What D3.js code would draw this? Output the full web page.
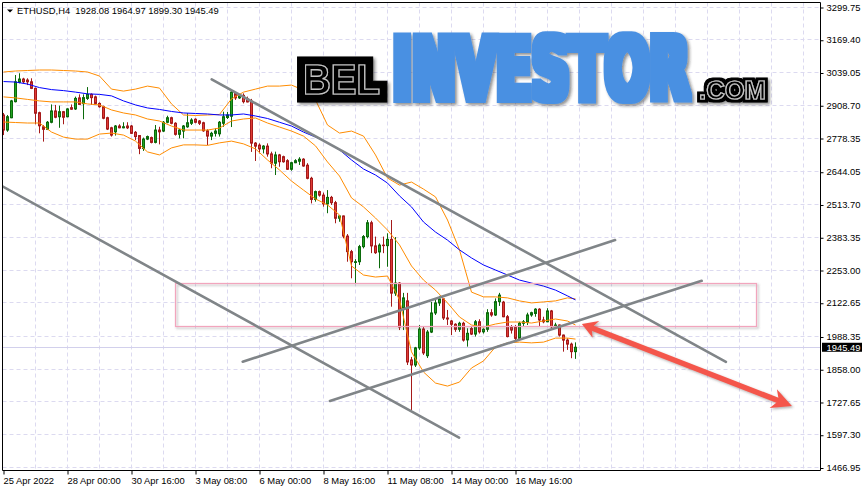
<!DOCTYPE html>
<html>
<head>
<meta charset="utf-8">
<script src="https://cdn.jsdelivr.net/npm/d3@7"></script>
<style>
html, body { margin: 0; padding: 0; background: #fff; }
svg { display: block; font-family: "Liberation Sans", Arial, sans-serif; }
</style>
</head>
<body>
<div class="chart"></div>
<script>
var width = 866, height = 492;
var plotLeft = 2.5, plotTop = 2.5, plotRight = 820.5, plotBottom = 470.5;

var symbol = "ETHUSD,H4";

// H4 candles, first bar 25 Apr 2022 08:00
var opens = [2870,2810,2859,2923,3000,3013,3009,3002,2976,2879, 2823,2813,2841,2886,2863,2883,2863,2899,2894,2938,
  2915,2936,2952,2942,2916,2903,2859,2819,2803,2826, 2819,2826,2826,2801,2788,2737,2774,2780,2761,2810,
  2806,2841,2859,2837,2793,2806,2823,2837,2853,2846, 2839,2807,2786,2797,2795,2837,2860,2865,2955,2938,
  2948,2934,2925,2758,2750,2735,2746,2715,2678,2711, 2704,2688,2654,2680,2686,2694,2670,2618,2534,2565,
  2551,2516,2542,2521,2459,2468,2388,2326,2283,2286, 2346,2386,2441,2349,2325,2352,2350,2375,2161,2201,
  2102,2130,1895,1875,1943,2018,1912,2006,2082,2122, 2138,2062,2050,2037,2017,2041,1975,2020,1998,2047,
  2007,2017,2083,2074,2127,2125,2067,2027,2027,1981, 2041,2045,2074,2080,2097,2054,2047,2090,2027,2034,
  1994,1974,1958,1928.08];
var highs = [2878,2870,2930,3029,3036,3018,3016,3016,2979,2883, 2830,2846,2912,2910,2907,2886,2897,2912,2943,2952,
  2952,2981,2956,2947,2920,2907,2863,2823,2830,2833, 2841,2841,2830,2806,2790,2780,2788,2784,2830,2823,
  2846,2867,2863,2841,2814,2830,2877,2857,2857,2850, 2843,2813,2803,2817,2846,2883,2882,2969,2960,2954,
  2956,2943,2934,2762,2757,2750,2757,2724,2724,2715, 2708,2694,2684,2694,2702,2698,2678,2624,2569,2569,
  2561,2571,2548,2528,2472,2470,2396,2333,2296,2353, 2392,2452,2449,2386,2359,2386,2399,2452,2384,2205,
  2162,2162,1907,1947,2034,2026,2014,2126,2138,2150, 2142,2094,2054,2041,2047,2047,2021,2030,2054,2057,
  2021,2097,2097,2140,2162,2130,2074,2034,2034,2047, 2054,2083,2087,2101,2101,2067,2101,2094,2043,2036,
  1996,1981,1964,1964.97];
var lows = [2790,2803,2857,2920,2996,2996,2989,2973,2833,2797, 2764,2810,2837,2857,2819,2833,2861,2890,2890,2910,
  2853,2930,2910,2912,2899,2853,2810,2784,2788,2817, 2817,2814,2794,2770,2714,2727,2770,2757,2757,2753,
  2802,2837,2833,2788,2777,2777,2819,2830,2837,2830, 2803,2750,2770,2784,2784,2823,2854,2822,2930,2934,
  2916,2920,2723,2687,2717,2717,2704,2658,2631,2664, 2680,2651,2648,2678,2671,2664,2614,2518,2525,2545,
  2505,2479,2512,2439,2445,2379,2286,2220,2197,2273, 2339,2379,2320,2317,2260,2320,2266,2107,2150,2014,
  2014,1875,1696,1867,1935,1915,1903,2002,2074,2110, 2054,2034,1994,2007,2007,1968,1948,1994,1988,2000,
  2000,2007,2067,2070,2110,2065,1985,2000,1974,1978, 2027,2034,2067,2067,2027,2041,2045,2021,2021,1988,
  1928,1935,1902,1899.30];
var closes = [2810,2863,2926,3002,3013,3002,3002,2976,2877,2827, 2813,2841,2886,2861,2883,2861,2894,2893,2936,2912,
  2939,2952,2939,2916,2903,2857,2814,2790,2826,2819, 2823,2819,2797,2784,2737,2774,2784,2761,2810,2803,
  2841,2859,2837,2793,2810,2826,2839,2850,2841,2837, 2807,2786,2797,2806,2841,2863,2870,2961,2938,2946,
  2923,2922,2758,2746,2735,2746,2715,2678,2711,2684, 2684,2654,2680,2688,2694,2667,2618,2534,2565,2551,
  2516,2542,2521,2459,2468,2388,2326,2286,2286,2346, 2386,2441,2349,2322,2352,2350,2375,2161,2201,2026,
  2142,1887,1875,1943,2018,1923,2006,2082,2122,2138, 2062,2058,2037,2017,2041,1974,2001,1998,2047,2007,
  2017,2083,2074,2127,2153,2067,1988,2014,1981,2041, 2047,2074,2083,2097,2054,2047,2090,2027,2034,1994,
  1974,1958,1928,1945.49];

// indicator readings, sampled every 3 bars
var bandBars = [0,3,6,9,12,15,18,21,24,27,30,33,36,39,42,45,48,51,54,57,60,63,66,69,72,75,78,81,84,87,
  90,93,96,99,102,105,108,111,114,117,120,123,126,129,132,135,138,141,143];
var bbUpper = [3041,3045,3047,3049,3049,3047,3045,3041,3025,2973, 2965,2973,2985,2977,2914,2870,2868,2870,2872,2934,
  2961,2973,2985,2985,2989,2969,2930,2830,2798,2806, 2786,2711,2619,2591,2603,2575,2544,2452,2333,2165,
  2146,2146,2142,2130,2122,2126,2130,2142,2138];
var bbMiddle = [2942,2938,2932,2926,2922,2922,2922,2914,2910,2890, 2878,2870,2854,2846,2826,2810,2810,2810,2818,2846,
  2854,2858,2838,2822,2806,2786,2747,2683,2627,2540, 2504,2460,2412,2353,2269,2213,2173,2122,2066,2034,
  2026,2038,2046,2046,2042,2050,2058,2050,2034];
var bbLower = [2842,2840,2838,2838,2802,2782,2774,2774,2794,2798, 2790,2766,2723,2711,2739,2751,2751,2749,2759,2766,
  2755,2735,2691,2651,2607,2571,2536,2512,2472,2269, 2233,2225,2229,2134,1927,1847,1803,1791,1807,1863,
  1891,1947,1963,1966,1963,1966,1982,1982,1978];
var maLine = [3003,3001,2993,2979,2971,2967,2961,2954,2952,2946, 2926,2910,2898,2892,2884,2878,2876,2874,2870,2870,
  2874,2866,2856,2841,2826,2802,2782,2759,2731,2691, 2655,2631,2599,2548,2504,2444,2404,2372,2333,2301,
  2273,2253,2233,2213,2201,2189,2173,2150,2134];

var timeTicks = [0,16,32,48,64,80,96,112,128];
var timeLabels = ["25 Apr 2022","28 Apr 00:00","30 Apr 16:00","3 May 08:00","6 May 00:00",
  "8 May 16:00","11 May 08:00","14 May 00:00","16 May 16:00"];
var priceTicks = [3299.75,3169.40,3039.05,2908.70,2778.35,2644.05,2513.70,2383.35,2253.00,
  2122.65,1988.35,1858.00,1727.65,1597.30,1466.95];

// drawn objects: [bar, price, bar, price]
var trendLines = [[52.05,3012,180.6,1887],[-0.5,2588,113.9,1586],[81.6,1732,174.55,2210],[59.8,1888,152.9,2372]];
var zoneBox = [43.1,2200,188.45,2027];
var arrowObj = [144.6,2038,197.1,1712];

var x = d3.scaleLinear().domain([0, 143]).range([3.5, 575.5]);
var y = d3.scaleLinear().domain([1466.95, 3299.75]).range([467.5, 7]);

function crisp(v){ return Math.round(v - 0.5) + 0.5; }

var svg = d3.select(".chart").append("svg").attr("width", width).attr("height", height);
var defs = svg.append("defs");
defs.append("clipPath").attr("id","plotClip").append("rect")
  .attr("x", plotLeft).attr("y", plotTop).attr("width", plotRight - plotLeft).attr("height", plotBottom - plotTop);
var f2 = defs.append("filter").attr("id","softShadow").attr("x","-10%").attr("y","-30%").attr("width","130%").attr("height","160%");
f2.append("feDropShadow").attr("dx",1.5).attr("dy",1.5).attr("stdDeviation",1.2).attr("flood-color","#555").attr("flood-opacity",0.45);

// thick outline + shadow for the logo
function fatFilter(id, r, color){
  var f = defs.append("filter").attr("id", id).attr("x","-10%").attr("y","-30%").attr("width","125%").attr("height","160%");
  f.append("feMorphology").attr("in","SourceAlpha").attr("operator","dilate").attr("radius", r).attr("result","fatA");
  f.append("feFlood").attr("flood-color", color).attr("result","col");
  f.append("feComposite").attr("in","col").attr("in2","fatA").attr("operator","in").attr("result","fat");
  f.append("feGaussianBlur").attr("in","fatA").attr("stdDeviation",1.5).attr("result","blur");
  f.append("feOffset").attr("in","blur").attr("dx",2).attr("dy",2).attr("result","off");
  f.append("feFlood").attr("flood-color","#222").attr("flood-opacity",0.5).attr("result","sc");
  f.append("feComposite").attr("in","sc").attr("in2","off").attr("operator","in").attr("result","shadow");
  var m = f.append("feMerge");
  m.append("feMergeNode").attr("in","shadow");
  m.append("feMergeNode").attr("in","fat");
  if (color === "#000") m.append("feMergeNode").attr("in","SourceGraphic");
}
fatFilter("fatBlack", 8, "#000");
fatFilter("fatBlackSmall", 3, "#000");
fatFilter("fatBlue", 3.5, "#4a90e2");

svg.append("rect").attr("width", width).attr("height", height).attr("fill", "#fff");

var plot = svg.append("g").attr("clip-path","url(#plotClip)");

// grid
var gridColor = "#dcdaf0";
plot.selectAll(".vgrid").data(d3.range(8, 205, 8)).enter().append("line")
  .attr("x1", function(d){ return crisp(x(d)); }).attr("x2", function(d){ return crisp(x(d)); })
  .attr("y1", plotTop).attr("y2", plotBottom)
  .attr("stroke", gridColor).attr("stroke-dasharray","4,3");
plot.selectAll(".hgrid").data(priceTicks).enter().append("line")
  .attr("x1", plotLeft).attr("x2", plotRight)
  .attr("y1", function(d){ return crisp(y(d)); }).attr("y2", function(d){ return crisp(y(d)); })
  .attr("stroke", gridColor).attr("stroke-dasharray","4,3");

// bid line
var last = closes.length - 1;
plot.append("line").attr("x1", plotLeft).attr("x2", plotRight)
  .attr("y1", crisp(y(closes[last]))).attr("y2", crisp(y(closes[last])))
  .attr("stroke", "#d2d0ec");

// candles
var bars = d3.range(opens.length);
function up(i){ return closes[i] >= opens[i]; }
var cg = plot.append("g");
cg.selectAll(".wick").data(bars).enter().append("line")
  .attr("x1", function(i){ return x(i); }).attr("x2", function(i){ return x(i); })
  .attr("y1", function(i){ return y(highs[i]); }).attr("y2", function(i){ return y(lows[i]); })
  .attr("stroke", function(i){ return up(i) ? "#0b6a0b" : "#a51a1a"; });
cg.selectAll(".body").data(bars).enter().append("rect")
  .attr("x", function(i){ return x(i) - 1; }).attr("width", 2)
  .attr("y", function(i){ return y(Math.max(opens[i], closes[i])); })
  .attr("height", function(i){ return Math.max(0.5, Math.abs(y(opens[i]) - y(closes[i]))); })
  .attr("fill", function(i){ return up(i) ? "#22a322" : "#e03b36"; })
  .attr("stroke", function(i){ return up(i) ? "#0b6a0b" : "#a51a1a"; });

// indicators
function bandLine(vals){
  return d3.line().x(function(d, k){ return x(bandBars[k]); }).y(function(d){ return y(d); })(vals);
}
[bbUpper, bbMiddle, bbLower].forEach(function(v){
  plot.append("path").attr("d", bandLine(v)).attr("fill","none").attr("stroke","#ff8c00").attr("stroke-width",1);
});
plot.append("path").attr("d", bandLine(maLine)).attr("fill","none").attr("stroke","#0000ff").attr("stroke-width",1);

// zone rectangle
plot.append("rect")
  .attr("x", crisp(x(zoneBox[0]))).attr("y", crisp(y(zoneBox[1])))
  .attr("width", Math.round(x(zoneBox[2]) - x(zoneBox[0]))).attr("height", Math.round(y(zoneBox[3]) - y(zoneBox[1])))
  .attr("fill","none").attr("stroke","#f2a5bd").attr("stroke-width",1.2).attr("filter","url(#softShadow)");

// trend lines
plot.selectAll(".trend").data(trendLines).enter().append("line")
  .attr("x1", function(d){ return x(d[0]); }).attr("y1", function(d){ return y(d[1]); })
  .attr("x2", function(d){ return x(d[2]); }).attr("y2", function(d){ return y(d[3]); })
  .attr("stroke","#808588").attr("stroke-width",2.6).attr("stroke-linecap","round");

// red arrow
var ax1 = x(arrowObj[0]), ay1 = y(arrowObj[1]), ax2 = x(arrowObj[2]), ay2 = y(arrowObj[3]);
var len = Math.hypot(ax2 - ax1, ay2 - ay1), ux = (ax2 - ax1) / len, uy = (ay2 - ay1) / len;
function headPath(tx, ty, dx, dy, L, W){
  var bx = tx - dx * L, by = ty - dy * L, nx = -dy, ny = dx;
  var mx = tx - dx * L * 0.7, my = ty - dy * L * 0.7;
  return "M" + tx + "," + ty + "L" + (bx + nx * W) + "," + (by + ny * W) +
    "L" + mx + "," + my + "L" + (bx - nx * W) + "," + (by - ny * W) + "Z";
}
var ag = plot.append("g").attr("filter","url(#softShadow)");
ag.append("line").attr("x1", ax1 + ux * 6).attr("y1", ay1 + uy * 6).attr("x2", ax2 - ux * 10).attr("y2", ay2 - uy * 10)
  .attr("stroke","#f4574b").attr("stroke-width",5.5);
ag.append("path").attr("d", headPath(ax2, ay2, ux, uy, 20, 10)).attr("fill","#f4574b");
ag.append("path").attr("d", headPath(ax1, ay1, -ux, -uy, 15, 9)).attr("fill","#f4574b");

// logo watermark: each word fitted to its box with a scale transform
function logoWord(txt, left, baseline, w, size, family, filterId, fill, inline){
  var g = svg.append("g").attr("filter","url(#" + filterId + ")");
  var t = g.append("text").text(txt).attr("font-size", size).attr("font-weight","bold")
    .attr("font-family", family).attr("fill", fill);
  if (inline) t.attr("stroke","#c4c4c4").attr("stroke-width",1.2);
  var nat = t.node().getComputedTextLength();
  t.attr("transform","translate(" + left + "," + baseline + ") scale(" + (w / nat) + ",1)");
}
logoWord("BEL", 303, 94, 77, 43, "'Liberation Sans',Arial,sans-serif", "fatBlack", "#000", true);
logoWord("INVESTOR", 392.5, 98.5, 297, 85, "'DejaVu Sans Condensed','Liberation Sans Narrow','DejaVu Sans',sans-serif", "fatBlue", "#4a90e2", false);
logoWord(".COM", 699, 98.5, 67, 25, "'Liberation Sans',Arial,sans-serif", "fatBlackSmall", "#000", true);

// frame
svg.append("path").attr("d","M" + plotLeft + "," + plotBottom + "V" + plotTop + "H" + plotRight)
  .attr("fill","none").attr("stroke","#000");

// axes
var yAxis = d3.axisRight(y).tickValues(priceTicks).tickFormat(d3.format(".2f")).tickSize(3).tickPadding(3);
var yg = svg.append("g").attr("transform","translate(" + plotRight + ",0)").call(yAxis);
var xAxis = d3.axisBottom(x).tickValues(timeTicks).tickFormat(function(d, i){ return timeLabels[i]; }).tickSize(4).tickPadding(3);
var xg = svg.append("g").attr("transform","translate(0," + plotBottom + ")").call(xAxis);
[yg, xg].forEach(function(g){
  g.attr("font-family","'Liberation Sans', Arial, sans-serif").attr("font-size",9.4);
  g.select(".domain").attr("stroke","#000");
  g.selectAll(".tick line").attr("stroke","#000");
  g.selectAll(".tick text").attr("fill","#000");
});
xg.select(".domain").attr("d","M" + plotLeft + ",0H" + plotRight);
yg.select(".domain").attr("d","M0," + plotTop + "V" + plotBottom);
xg.selectAll(".tick text").attr("text-anchor","start").attr("x",-0.5);
yg.selectAll(".tick line").attr("transform","translate(0,0.5)");

// current price label
var by = y(closes[last]);
svg.append("rect").attr("x",822).attr("y",by - 4.5).attr("width",40).attr("height",9).attr("fill","#000");
svg.append("text").attr("x",826.5).attr("y",by + 3.4).text(closes[last].toFixed(2))
  .attr("font-size",9.4).attr("fill","#fff");

// header
svg.append("path").attr("d","M7,9.5H13L10,12.5Z").attr("fill","#000");
svg.append("text").attr("x",17).attr("y",14).attr("font-size",9.4).attr("fill","#000")
  .attr("xml:space","preserve").style("white-space","pre")
  .text(symbol + "  " + [opens[last], highs[last], lows[last], closes[last]].map(function(v){ return v.toFixed(2); }).join(" "));
</script>
</body>
</html>
